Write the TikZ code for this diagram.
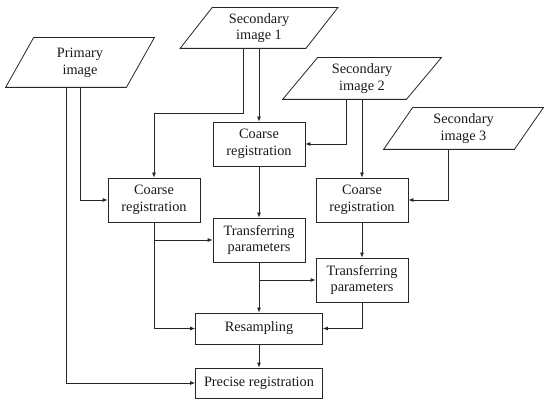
\documentclass[tikz,border=0pt]{standalone}
\usepackage{fontspec}
\setmainfont{Liberation Serif}
\usetikzlibrary{arrows.meta,calc}
\begin{document}
\begin{tikzpicture}[x=1pt,y=-1pt,
  line width=0.8pt,
  color=black!85,
  txt/.style={font=\fontsize{14.3}{16.7}\selectfont, align=center, inner sep=0pt, text=black!90},
  box/.style={txt, draw, rectangle, minimum width=92pt, minimum height=44pt},
  wbox/.style={box, minimum width=127pt, minimum height=31pt},
  io/.style={txt, rectangle, minimum height=41pt},
  arr/.style={-{Latex[length=5pt,width=4pt]}},
]
\useasboundingbox (0,0) rectangle (550,404);
% input parallelograms (invisible frames)
\node[io, minimum width=148pt, minimum height=49pt] (p1) at (80,62.5) {Primary\\image};
\node[io, minimum width=157pt, minimum height=40pt] (s1) at (259,28) {Secondary\\image 1};
\node[io, minimum width=158pt] (s2) at (362,78.5) {Secondary\\image 2};
\node[io, minimum width=159pt] (s3) at (463.5,128.5) {Secondary\\image 3};
\draw ($(p1.north west)+(28,0)$) -- (p1.north east) -- ($(p1.south east)-(28,0)$) -- (p1.south west) -- cycle;
\draw ($(s1.north west)+(32,0)$) -- (s1.north east) -- ($(s1.south east)-(32,0)$) -- (s1.south west) -- cycle;
\draw ($(s2.north west)+(35,0)$) -- (s2.north east) -- ($(s2.south east)-(35,0)$) -- (s2.south west) -- cycle;
\draw ($(s3.north west)+(29,0)$) -- (s3.north east) -- ($(s3.south east)-(29,0)$) -- (s3.south west) -- cycle;
% process boxes
\node[box] (cr1) at (154,200) {Coarse\\registration};
\node[box] (cr2) at (259,144) {Coarse\\registration};
\node[box] (cr3) at (362,200) {Coarse\\registration};
\node[box] (tp2) at (259,240) {Transferring\\parameters};
\node[box] (tp3) at (362,280) {Transferring\\parameters};
\node[wbox] (rs) at (259,328.5) {Resampling};
\node[wbox, minimum height=30pt] (pr) at (259,383) {Precise registration};
% connectors
\draw[arr] ($(s1.south)+(-16,0)$) -- ++(0,65) -| (cr1.north);
\draw[arr] (s1.south) -- (cr2.north);
\draw[arr] (p1.south) |- (cr1.west);
\draw[arr] ($(p1.south)+(-14,0)$) |- (pr.west);
\draw[arr] ($(s2.south)+(-16,0)$) |- (cr2.east);
\draw[arr] (s2.south) -- (cr3.north);
\draw[arr] ($(s3.south)+(-15.5,0)$) |- (cr3.east);
\draw[arr] (cr2.south) -- (tp2.north);
\draw[arr] (cr1.south) |- (rs.west);
\draw[arr] (cr1.south |- tp2.west) -- (tp2.west);
\draw[arr] (cr3.south) -- (tp3.north);
\draw[arr] (tp2.south) -- (rs.north);
\draw[arr] (tp2.south |- tp3.west) -- (tp3.west);
\draw[arr] (tp3.south) |- (rs.east);
\draw[arr] (rs.south) -- (pr.north);
\end{tikzpicture}
\end{document}
